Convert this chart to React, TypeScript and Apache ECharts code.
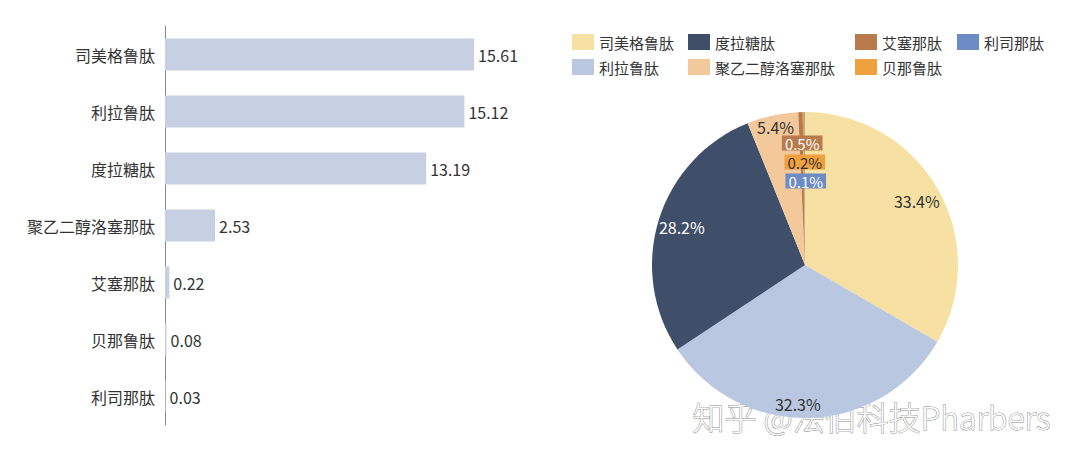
import React, { useEffect, useRef } from "react";
import * as echarts from "echarts";

const categories = ["司美格鲁肽", "利拉鲁肽", "度拉糖肽", "聚乙二醇洛塞那肽", "艾塞那肽", "贝那鲁肽", "利司那肽"];
const values = [15.61, 15.12, 13.19, 2.53, 0.22, 0.08, 0.03];
const pieColors = ["#f6e1a2", "#b9c8e0", "#3f4e69", "#f3c99b", "#b87b4b", "#efa03f", "#6d8cc5"];
const pieLabelColors = ["#333333", "#333333", "#ffffff", "#333333", "#ffffff", "#333333", "#ffffff"];
const legendColumns = [
  ["司美格鲁肽", "利拉鲁肽"],
  ["度拉糖肽", "聚乙二醇洛塞那肽"],
  ["艾塞那肽", "贝那鲁肽"],
  ["利司那肽"],
];
const legendLefts = [572, 688, 855, 957];

const FONT = "'Noto Sans CJK SC', 'Noto Sans', sans-serif";

export default function App() {
  const ref = useRef<HTMLDivElement>(null);
  useEffect(() => {
    if (!ref.current) return;
    const chart = echarts.init(ref.current, null, { renderer: "svg" });
    const total = values.reduce((a, b) => a + b, 0);
    const pieData = categories.map((name, i) => ({
      name,
      value: values[i],
      itemStyle: { color: pieColors[i] },
    }));
    const labelData = categories.map((name, i) => ({
      name,
      value: values[i],
      label: {
        color: pieLabelColors[i],
        backgroundColor: i >= 4 ? pieColors[i] : "transparent",
        padding: i >= 4 ? [0, 3, 0, 3] : 0,
        fontSize: i >= 4 ? 15 : 16,
        lineHeight: i >= 4 ? 15 : 16,
      },
    }));
    const labelShift: Record<number, { dx: number; dy: number }> = {
      1: { dx: -11, dy: 10 },
      3: { dx: -2, dy: -12 },
      4: { dx: 1, dy: 7 },
      5: { dx: 1, dy: 26 },
      6: { dx: 1, dy: 45 },
    };
    chart.setOption({
      animation: false,
      textStyle: { fontFamily: FONT },
      legend: legendColumns.map((col, i) => ({
        orient: "vertical",
        left: legendLefts[i],
        top: 34,
        padding: 0,
        itemWidth: 22,
        itemHeight: 16,
        itemGap: 9,
        icon: "rect",
        selectedMode: false,
        data: col,
        textStyle: { fontSize: 15, color: "#333", fontFamily: FONT },
      })),
      grid: { left: 165, top: 26, width: 396, height: 399, containLabel: false },
      xAxis: {
        type: "value",
        min: 0,
        max: 20,
        show: false,
      },
      yAxis: {
        type: "category",
        inverse: true,
        data: categories,
        axisLine: { show: true, lineStyle: { color: "#8a8a8a", width: 1 } },
        axisTick: { show: false },
        axisLabel: { fontSize: 16, color: "#333", margin: 10, fontFamily: FONT },
      },
      series: [
        {
          type: "bar",
          data: values,
          barWidth: 32,
          itemStyle: { color: "#c6d0e2" },
          label: {
            show: true,
            position: "right",
            distance: 4,
            fontSize: 16,
            color: "#333",
            fontFamily: FONT,
            formatter: (p: any) => p.value.toFixed(2),
          },
        },
        {
          type: "pie",
          center: [805, 265],
          radius: [0, 153],
          startAngle: 90,
          clockwise: true,
          data: pieData,
          label: { show: false },
          labelLine: { show: false },
          itemStyle: { borderWidth: 0 },
          silent: true,
        },
        {
          type: "pie",
          center: [805, 265],
          radius: [99, 153],
          startAngle: 90,
          clockwise: true,
          data: labelData,
          itemStyle: { color: "rgba(0,0,0,0)", borderWidth: 0 },
          silent: true,
          label: {
            show: true,
            position: "inside",
            fontFamily: FONT,
            formatter: (p: any) => ((p.value / total) * 100).toFixed(1) + "%",
          },
          labelLine: { show: false },
          labelLayout: (params: any) => {
            const s = labelShift[params.dataIndex];
            return s ? { dx: s.dx, dy: s.dy } : {};
          },
        },
      ],
      graphic: [
        {
          type: "text",
          left: 692,
          top: 399,
          style: {
            text: "知乎 @法伯科技Pharbers",
            fontSize: 32,
            fontWeight: 300,
            fontFamily: FONT,
            fill: "#ffffff",
            stroke: "#8c8c8c",
            lineWidth: 1,
          },
        },
      ],
    });
    return () => chart.dispose();
  }, []);
  return (
    <div
      ref={ref}
      style={{ position: "fixed", left: 0, top: 0, width: 1080, height: 462, background: "#fff" }}
    />
  );
}
